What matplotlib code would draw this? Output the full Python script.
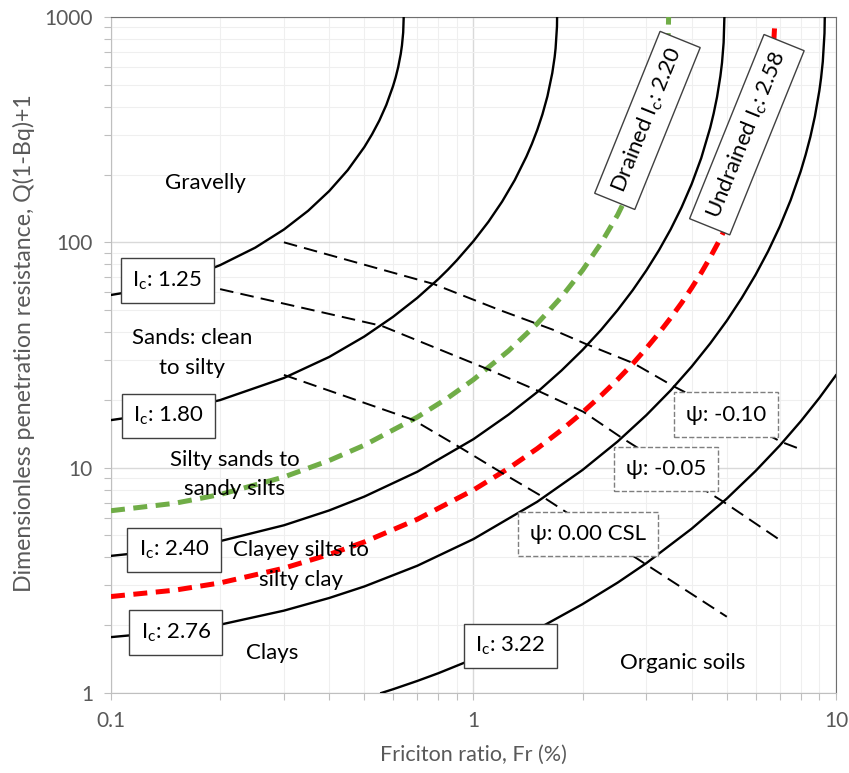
import matplotlib
matplotlib.use('Agg')
import matplotlib.pyplot as plt
from matplotlib.ticker import LogLocator, NullFormatter

plt.rcParams['font.family'] = ['Lato', 'DejaVu Sans']
plt.rcParams['mathtext.fontset'] = 'custom'
plt.rcParams['mathtext.rm'] = 'Lato'
plt.rcParams['mathtext.it'] = 'Lato:italic'

# Ic contour lines (friction ratio %, normalised Q)
ic125_fr = [0.1, 0.12, 0.15, 0.17, 0.2, 0.25, 0.3, 0.35, 0.4, 0.45, 0.5, 0.525, 0.55, 0.575,
            0.6, 0.61, 0.62, 0.63, 0.635, 0.64, 0.6421]
ic125_q = [58.4, 61.3, 66.9, 71.5, 79.2, 94.7, 114.0, 138.1, 168.9, 209.2, 264.7, 301.4, 347.1, 407.4,
           493.2, 539.4, 599.3, 684.5, 747.8, 854, 1000]

ic180_fr = [0.1, 0.15, 0.2, 0.3, 0.4, 0.5, 0.6, 0.7, 0.8, 0.85, 0.9, 1.0, 1.1, 1.2, 1.3, 1.4, 1.45,
            1.5, 1.55, 1.6, 1.65, 1.675, 1.685, 1.70, 1.7013]
ic180_q = [16.26, 17.86, 19.95, 25.0, 31.0, 38.2, 46.7, 56.7, 68.7, 75.6, 83.3, 101.2, 123.4, 151.7, 188.9,
           240.2, 273.7, 315.6, 369.8, 444.9, 564, 664.1, 725.5, 907, 1000]

ic220_fr = [0.1, 0.15, 0.2, 0.3, 0.4, 0.5, 0.7, 0.85, 1.0, 1.25, 1.5, 1.75, 2, 2.25, 2.5, 2.75,
            2.9, 3, 3.1, 3.2, 3.3, 3.35, 3.4, 3.42, 3.445, 3.455]
ic220_q = [6.44, 6.95, 7.60, 9.09, 10.76, 12.58, 16.76, 20.4, 24.59, 33.0, 43.6, 57.3, 75.2, 99.2, 132.5, 181.1,
           222.7, 258.9, 305.3, 367.6, 460.6, 528.6, 632.9, 692.2, 825, 1000]

ic240_fr = [0.1, 0.15, 0.2, 0.3, 0.4, 0.5, 0.7, 1.0, 1.25, 1.5, 1.75, 2, 2.25, 2.5, 2.75, 3, 3.25,
            3.5, 3.75, 4, 4.25, 4.5, 4.6, 4.7, 4.8, 4.85, 4.9, 4.924]
ic240_q = [4.06, 4.35, 4.72, 5.55, 6.46, 7.44, 9.59, 13.38, 17.2, 21.65, 27.0, 33.3, 40.9, 50.1, 61.3, 75.1, 92.3,
           114.2, 142.8, 181.5, 236.5, 322.7, 373.6, 442.2, 546.4, 626.6, 770, 1000]

ic258_fr = [0.1, 0.15, 0.2, 0.3, 0.4, 0.5, 0.7, 1.0, 1.25, 1.5, 1.75, 2, 2.25, 2.5, 2.75, 3, 3.25,
            3.5, 3.75, 4, 4.25, 4.5, 4.75, 5, 5.25, 5.5, 5.75, 6, 6.15, 6.3, 6.45, 6.55, 6.62, 6.7, 6.77]
ic258_q = [2.68, 2.86, 3.08, 3.58, 4.12, 4.68, 5.90, 7.96, 9.93, 12.16, 14.7, 17.59, 20.9, 24.64, 28.9, 33.9, 39.6,
           46.2, 53.8, 62.8, 73.2, 85.8, 100.8, 119.0, 141.6, 169.9, 206.9, 256.9, 297.2, 348.6, 421.1, 487.8,
           553.7, 664.9, 890]

ic276_fr = [0.1, 0.15, 0.2, 0.3, 0.4, 0.5, 0.7, 1.0, 1.5, 2, 2.5, 3, 3.5, 4, 4.5, 5, 5.5, 6, 6.5, 7,
            7.5, 8, 8.25, 8.5, 8.75, 9, 9.1, 9.2, 9.3, 9.316]
ic276_q = [1.77, 1.88, 2.01, 2.32, 2.64, 2.97, 3.67, 4.82, 7.06, 9.77, 13.07, 17.11, 22.03, 28.1, 35.6, 44.9, 56.7,
           71.7, 91.3, 117.5, 153.9, 207.2, 244.8, 293.5, 362.5, 470.4, 536.3, 634.4, 847, 1000]

ic322_fr = [0.557, 0.6, 0.7, 0.8, 1.0, 1.5, 2, 2.5, 3, 4, 5, 6, 7, 8, 9, 10]
ic322_q = [1.0, 1.039, 1.131, 1.224, 1.415, 1.921, 2.48, 3.09, 3.77, 5.36, 7.29, 9.66, 12.54, 16.07, 20.39, 25.70]

# state parameter lines
psi010_fr = [0.3, 0.775, 1.18, 1.66, 2.05, 2.76, 3.56, 7.08, 7.96]
psi010_q = [100, 65.4, 50.1, 40.9, 35.3, 29.1, 23.0, 13.0, 12.1]
psi005_fr = [0.2, 0.558, 1.087, 1.51, 2.01, 2.56, 4.89, 7.0]
psi005_q = [62, 42.6, 27.5, 21.9, 17.7, 13.6, 7.06, 4.78]
psi000_fr = [0.3, 0.682, 0.918, 1.196, 1.558, 2.97, 5.0]
psi000_q = [25.8, 16.3, 12.3, 9.5, 7.4, 3.75, 2.18]

# label texts and where they sit
ic_labels = ['1.25', '1.80', '2.40', '2.76', '3.22']
ic_label_fr = [0.1432, 0.1441, 0.1492, 0.1511, 1.265]
ic_label_q = [67.8, 16.97, 4.31, 1.856, 1.617]

psi_labels = ['ψ: -0.10', 'ψ: -0.05', 'ψ: 0.00 CSL']
psi_label_fr = [4.97, 3.40, 2.067]
psi_label_q = [17.2, 9.89, 5.09]

zone_labels = ['Gravelly', 'Sands: clean\nto silty', 'Silty sands to\nsandy silts',
               'Clayey silts to\nsilty clay', 'Clays', 'Organic soils']
zone_fr = [0.1817, 0.1673, 0.2198, 0.3342, 0.278, 3.78]
zone_q = [183, 32.3, 9.33, 3.70, 1.505, 1.359]

fig = plt.figure(figsize=(8.49, 7.73), dpi=100)
ax = fig.add_axes([0.1307, 0.1035, 0.8539, 0.8745])
ax.set_xscale('log')
ax.set_yscale('log')
ax.set_xlim(0.1, 10)
ax.set_ylim(1, 1000)

ax.xaxis.set_minor_locator(LogLocator(base=10, subs=range(2, 10)))
ax.yaxis.set_minor_locator(LogLocator(base=10, subs=range(2, 10)))
ax.xaxis.set_minor_formatter(NullFormatter())
ax.yaxis.set_minor_formatter(NullFormatter())
ax.set_xticks([0.1, 1, 10], labels=['0.1', '1', '10'])
ax.set_yticks([1, 10, 100, 1000], labels=['1', '10', '100', '1000'])

ax.grid(which='major', color='#D9D9D9', lw=1)
ax.grid(which='minor', color='#EFEFEF', lw=0.8)
ax.set_axisbelow(True)
ax.tick_params(which='both', direction='out', length=5, width=0.8, color='#BFBFBF',
               labelsize=15, labelcolor='#595959', pad=8)
for s in ['left', 'bottom']:
    ax.spines[s].set_color('#BFBFBF')
for s in ['top', 'right']:
    ax.spines[s].set_color('#6f6f6f')

for fr, q in [(ic125_fr, ic125_q), (ic180_fr, ic180_q), (ic240_fr, ic240_q),
              (ic276_fr, ic276_q), (ic322_fr, ic322_q)]:
    ax.plot(fr, q, color='black', lw=1.7, zorder=3)

ax.plot(ic220_fr, ic220_q, color='#70AD47', lw=3.6, ls=(0, (2.8, 1.7)), zorder=3)
ax.plot(ic258_fr, ic258_q, color='#FF0000', lw=3.6, ls=(0, (2.8, 1.7)), zorder=3)

for fr, q in [(psi010_fr, psi010_q), (psi005_fr, psi005_q), (psi000_fr, psi000_q)]:
    ax.plot(fr, q, color='black', lw=1.4, ls=(0, (7, 3.7)), zorder=3)

for lab, x, y in zip(ic_labels, ic_label_fr, ic_label_q):
    ax.text(x, y, r'I$_\mathrm{c}$: ' + lab, fontsize=16, ha='center', va='center', zorder=5,
            bbox=dict(boxstyle='square,pad=0.5', fc='white', ec='#404040', lw=1))

for lab, x, y in zip(psi_labels, psi_label_fr, psi_label_q):
    ax.text(x, y, lab, fontsize=16, ha='center', va='center', zorder=5,
            bbox=dict(boxstyle='square,pad=0.55', fc='white', ec='#7f7f7f', lw=1, ls='--'))

ax.text(3.02, 347.6, r'Drained I$_\mathrm{c}$: 2.20', fontsize=16, rotation=68,
        rotation_mode='anchor', ha='center', va='center', zorder=5,
        bbox=dict(boxstyle='square,pad=0.45', fc='white', ec='#404040', lw=1))
ax.text(5.68, 300.4, r'Undrained I$_\mathrm{c}$: 2.58', fontsize=16, rotation=68,
        rotation_mode='anchor', ha='center', va='center', zorder=5,
        bbox=dict(boxstyle='square,pad=0.45', fc='white', ec='#404040', lw=1))

for lab, x, y in zip(zone_labels, zone_fr, zone_q):
    ax.text(x, y, lab, fontsize=16, ha='center', va='center', linespacing=1.6, zorder=4)

ax.set_xlabel('Friciton ratio, Fr (%)', fontsize=15.5, color='#595959')
ax.set_ylabel('Dimensionless penetration resistance, Q(1-Bq)+1', fontsize=16.7, color='#595959')
ax.xaxis.set_label_coords(0.5, -0.077)
ax.yaxis.set_label_coords(-0.105, 0.517)

fig.savefig('out.png', dpi=100)
